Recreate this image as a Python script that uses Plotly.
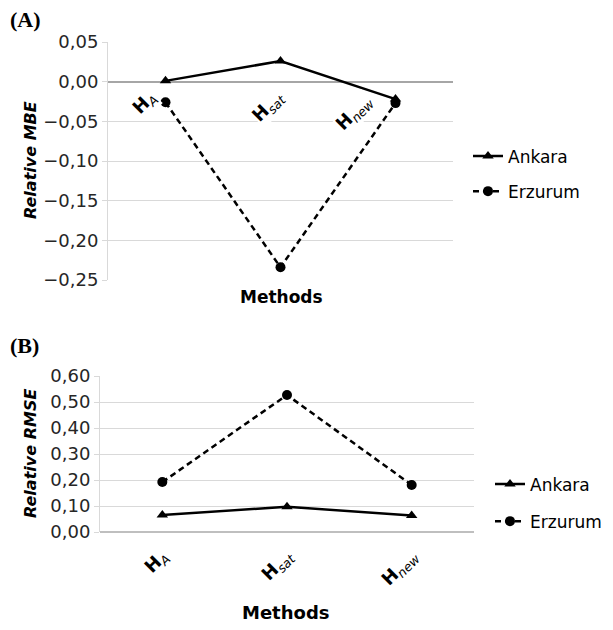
import plotly.graph_objects as go

methods = ["<b>H</b><sub><i>A</i></sub>", "<b>H</b><sub><i>sat</i></sub>", "<b>H</b><sub><i>new</i></sub>"]
x_pos = [0, 1, 2]

mbe_ankara = [0.001, 0.026, -0.022]
mbe_erzurum = [-0.026, -0.234, -0.027]

rmse_ankara = [0.065, 0.097, 0.063]
rmse_erzurum = [0.192, 0.527, 0.181]

mbe_ticks = [0.05, 0.00, -0.05, -0.10, -0.15, -0.20, -0.25]
rmse_ticks = [0.0, 0.1, 0.2, 0.3, 0.4, 0.5, 0.6]

# pixel nudges for the rotated category labels of panel A (layout only)
label_xshift_a = [-2, 10, -16]
label_yshift_a = [-3, -3, -7]

FONT = "DejaVu Sans"
TXT = "#262626"
GRID = "#d9d9d9"

fig = go.Figure()

def add_series(xa, ya, ank, erz, legend, group_suffix):
    fig.add_trace(go.Scatter(
        x=x_pos, y=ank, xaxis=xa, yaxis=ya, name="Ankara", mode="lines+markers",
        line=dict(color="black", width=2.5), marker=dict(symbol="triangle-up", size=10, color="black"),
        legend=legend, legendgroup="a" + group_suffix))
    fig.add_trace(go.Scatter(
        x=x_pos, y=erz, xaxis=xa, yaxis=ya, name="Erzurum", mode="lines+markers",
        line=dict(color="black", width=2.5, dash="6px,4px"), marker=dict(symbol="circle", size=10, color="black"),
        legend=legend, legendgroup="e" + group_suffix))

add_series("x", "y", mbe_ankara, mbe_erzurum, "legend", "1")
add_series("x2", "y2", rmse_ankara, rmse_erzurum, "legend2", "2")

common_x = dict(range=[-0.5, 2.5], showgrid=False, zeroline=False, fixedrange=True)
common_y = dict(showgrid=True, gridcolor=GRID, gridwidth=1, showline=True, linecolor=GRID, linewidth=1,
                ticks="outside", ticklen=5, tickcolor=GRID, tickformat=".2f",
                tickfont=dict(family=FONT, size=18, color=TXT))

fig.update_layout(
    width=613, height=630,
    margin=dict(l=0, r=0, t=0, b=0, autoexpand=False),
    paper_bgcolor="white", plot_bgcolor="white",
    separators=",.",
    xaxis=dict(domain=[108/613, 453/613], anchor="y", showticklabels=False, **common_x),
    yaxis=dict(domain=[1-280/630, 1-42/630], anchor="x", range=[-0.25, 0.05], tickvals=mbe_ticks,
               zeroline=True, zerolinecolor="#a6a6a6", zerolinewidth=1.5, **common_y),
    xaxis2=dict(domain=[100/613, 474/613], anchor="y2", showticklabels=True, tickvals=x_pos, ticktext=methods,
                tickangle=-45, ticks="", ticklabelstandoff=9,
                tickfont=dict(family=FONT, size=18, color="black"), **common_x),
    yaxis2=dict(domain=[1-532/630, 1-376/630], anchor="x2", range=[0, 0.6], tickvals=rmse_ticks,
                zeroline=True, zerolinecolor="#bfbfbf", zerolinewidth=1.5, **common_y),
    legend=dict(x=468/613, y=1-174/630, xanchor="left", yanchor="middle",
                font=dict(family=FONT, size=17, color="black"), tracegroupgap=10, itemwidth=30),
    legend2=dict(x=490/613, y=1-503/630, xanchor="left", yanchor="middle",
                 font=dict(family=FONT, size=17, color="black"), tracegroupgap=12, itemwidth=30),
    showlegend=True,
)

annotations = []
for xi, lab, dx, dy in zip(x_pos, methods, label_xshift_a, label_yshift_a):
    annotations.append(dict(x=xi, y=0, xref="x", yref="y", text=lab, textangle=-45, showarrow=False,
                            xanchor="right", yanchor="top", xshift=dx, yshift=dy, bgcolor="white", borderpad=0,
                            font=dict(family=FONT, size=18, color="black")))

annotations += [
    dict(x=8/613, y=1-19/630, xref="paper", yref="paper", text="<b>(A)</b>", showarrow=False,
         xanchor="left", yanchor="middle", font=dict(family="Liberation Serif", size=22, color="black")),
    dict(x=8/613, y=1-345/630, xref="paper", yref="paper", text="<b>(B)</b>", showarrow=False,
         xanchor="left", yanchor="middle", font=dict(family="Liberation Serif", size=22, color="black")),
    dict(x=30/613, y=1-160/630, xref="paper", yref="paper", text="<b><i>Relative MBE</i></b>", textangle=-90,
         showarrow=False, xanchor="center", yanchor="middle", font=dict(family=FONT, size=16, color="black")),
    dict(x=30/613, y=1-454/630, xref="paper", yref="paper", text="<b><i>Relative RMSE</i></b>", textangle=-90,
         showarrow=False, xanchor="center", yanchor="middle", font=dict(family=FONT, size=16, color="black")),
    dict(x=281/613, y=1-297/630, xref="paper", yref="paper", text="<b>Methods</b>", showarrow=False,
         xanchor="center", yanchor="middle", font=dict(family=FONT, size=17, color="black")),
    dict(x=286/613, y=1-612/630, xref="paper", yref="paper", text="<b>Methods</b>", showarrow=False,
         xanchor="center", yanchor="middle", font=dict(family=FONT, size=18, color="black")),
]
fig.update_layout(annotations=annotations)

fig.write_html("out.html", config={"displayModeBar": False},
               post_script="document.body.style.margin='0';")
